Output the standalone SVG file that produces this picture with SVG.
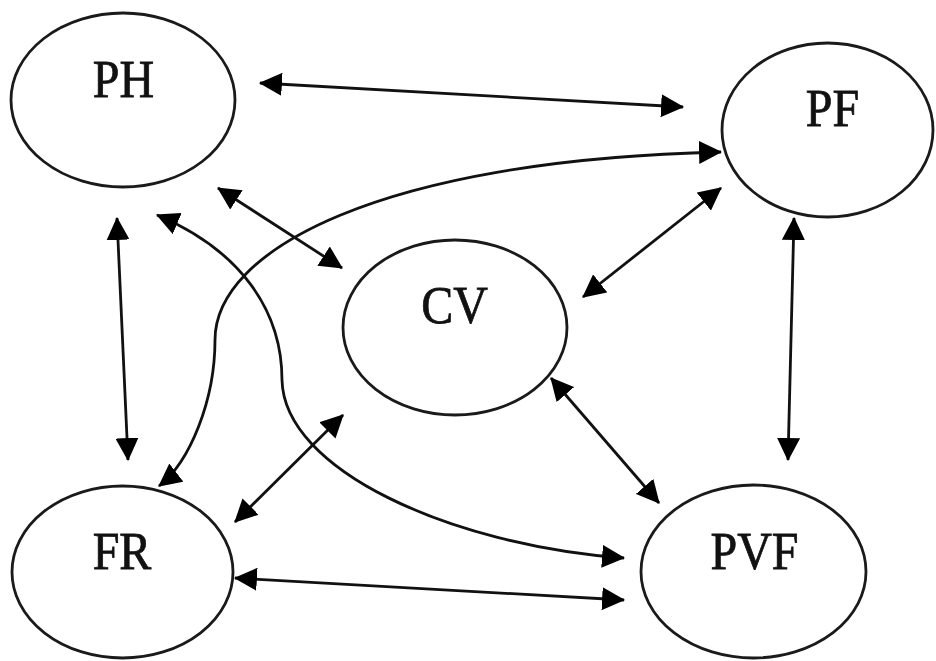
<svg xmlns="http://www.w3.org/2000/svg" width="936" height="661" viewBox="0 0 936 661">
<style>
.node{fill:#fff;stroke:#1a1a1a;stroke-width:2.8}
.lbl{font-family:"Liberation Serif","Times New Roman",serif;font-size:48px;fill:#111;stroke:#111;stroke-width:0.7;text-anchor:middle}
.edge{fill:none;stroke:#111;stroke-width:2.8;marker-start:url(#ah);marker-end:url(#ah)}
</style>
<defs>
<marker id="ah" viewBox="0 0 22 22" refX="21" refY="11" markerWidth="23" markerHeight="23" markerUnits="userSpaceOnUse" orient="auto-start-reverse">
<path d="M0,0 L22,11 L0,22 z" fill="#000"/>
</marker>
</defs>
<rect width="936" height="661" fill="#fff"/>
<g id="PH"><ellipse class="node" cx="123" cy="100" rx="112" ry="87"/><text class="lbl" transform="translate(123.5,97) scale(1,1.1)">PH</text></g>
<g id="PF"><ellipse class="node" cx="827.5" cy="130" rx="105.5" ry="87"/><text class="lbl" transform="translate(832.5,126) scale(1,1.1)">PF</text></g>
<g id="CV"><ellipse class="node" cx="455" cy="327.5" rx="112" ry="87.5"/><text class="lbl" transform="translate(454.5,323) scale(1,1.1)">CV</text></g>
<g id="FR"><ellipse class="node" cx="122.5" cy="572" rx="110.5" ry="86"/><text class="lbl" transform="translate(122,569) scale(1,1.1)">FR</text></g>
<g id="PVF"><ellipse class="node" cx="753.5" cy="571.5" rx="112.5" ry="86.5"/><text class="lbl" transform="translate(754.5,569) scale(1,1.1)">PVF</text></g>
<g id="connectors">
<path class="edge" d="M260,83 L683,107"/>
<path class="edge" d="M218,188 L342,268"/>
<path class="edge" d="M117,218 L128,460"/>
<path class="edge" d="M583,297 L721,188"/>
<path class="edge" d="M794,218 L788,460"/>
<path class="edge" d="M551,378 L659,503"/>
<path class="edge" d="M235,522 L343,415"/>
<path class="edge" d="M235,578 L624,600"/>
<path class="edge" d="M159,486 C190,462 215,400 215,340 C215,250 380,160 721,152"/>
<path class="edge" d="M157,215 C240,250 282,310 282,380 C284,470 450,545 624,558"/>
</g>
</svg>
